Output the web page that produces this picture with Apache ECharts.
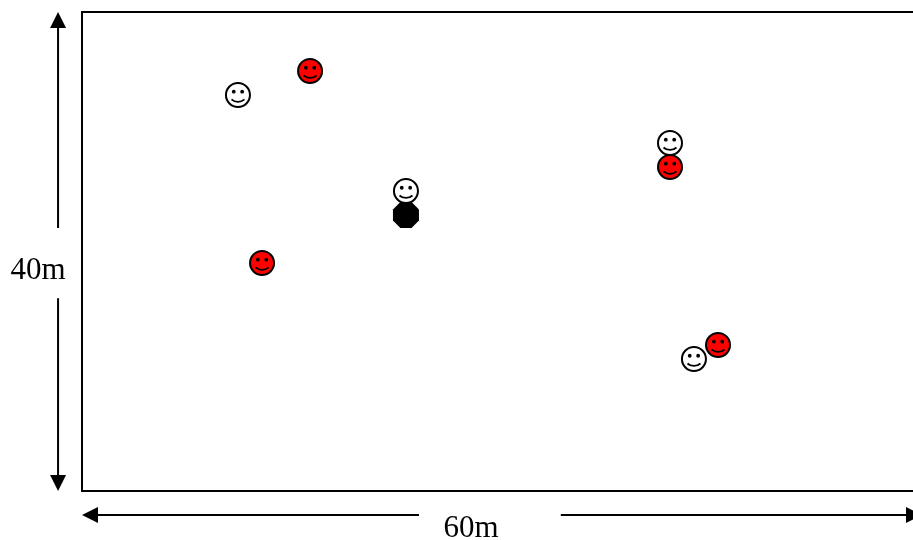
<!DOCTYPE html>
<html>
<head>
<meta charset="utf-8">
<style>html,body{margin:0;padding:0;background:#fff;overflow:hidden}#c{width:913px;height:540px}</style>
<script src="https://cdn.jsdelivr.net/npm/echarts@6/dist/echarts.min.js"></script>
</head>
<body>
<div id="c"></div>
<script>
// positions in metres inside the 60m x 40m field (the field's right edge runs off the page)
var whitePeople = [[11.14,33.07],[23.14,25.05],[42,29.06],[43.71,11.02]];
var redPeople   = [[16.29,35.07],[12.86,19.04],[42,27.06],[45.43,12.19]];
var blackMarker = [[23.14,23.05]];
// field outline segments: [x1,y1,x2,y2]
var fieldEdges = [[0,0,0,40],[0,40,60,40],[0,0,60,0],[60,0,60,40]];
// dimension arrows: [x1,y1,x2,y2] with the head at x1,y1
var arrows = [
  [-1.71,40,-1.71,21.96],
  [-1.71,0,-1.71,16.1],
  [0,-2,24.07,-2],
  [60,-2,34.2,-2]
];
var labels = [
  {text:'40m', value:[-3.14,18.42]},
  {text:'60m', value:[27.79,-3.17]}
];
var visibleXMax = 59.357;

function smiley(api, fill){
  var c = api.coord([api.value(0), api.value(1)]);
  var x = c[0], y = c[1];
  return {type:'group', children:[
    {type:'circle', shape:{cx:x,cy:y,r:12}, style:{fill:fill,stroke:'#000',lineWidth:2}},
    {type:'circle', shape:{cx:x-4.2,cy:y-3.3,r:1.9}, style:{fill:'#000'}},
    {type:'circle', shape:{cx:x+4.2,cy:y-3.3,r:1.9}, style:{fill:'#000'}},
    {type:'arc', shape:{cx:x,cy:y-2.9,r:9.8,startAngle:Math.PI*0.27,endAngle:Math.PI*0.73},
      style:{fill:'none',stroke:'#000',lineWidth:1.8}}
  ]};
}
function octagon(api){
  var c = api.coord([api.value(0), api.value(1)]);
  var r = 13, k = 5.6, x = c[0], y = c[1];
  return {type:'polygon', shape:{points:[[x-k,y-r],[x+k,y-r],[x+r,y-k],[x+r,y+k],[x+k,y+r],[x-k,y+r],[x-r,y+k],[x-r,y-k]]},
    style:{fill:'#000'}};
}
function edge(params, api){
  var a = api.coord([api.value(0), api.value(1)]);
  var b = api.coord([api.value(2), api.value(3)]);
  return {type:'line', shape:{x1:a[0],y1:a[1],x2:b[0],y2:b[1]}, style:{stroke:'#000',lineWidth:2,lineCap:'square'}};
}
function arrow(params, api){
  var a = api.coord([api.value(0), api.value(1)]);
  var b = api.coord([api.value(2), api.value(3)]);
  var dx = b[0]-a[0], dy = b[1]-a[1], L = Math.sqrt(dx*dx+dy*dy);
  var ux = dx/L, uy = dy/L, h = 16, w = 8;
  var bx = a[0]+ux*h, by = a[1]+uy*h;
  return {type:'group', children:[
    {type:'line', shape:{x1:bx,y1:by,x2:b[0],y2:b[1]}, style:{stroke:'#000',lineWidth:2}},
    {type:'polygon', shape:{points:[a,[bx-uy*w,by+ux*w],[bx+uy*w,by-ux*w]]}, style:{fill:'#000'}}
  ]};
}

var chart = echarts.init(document.getElementById('c'), null, {renderer:'canvas'});
chart.setOption({
  animation:false,
  backgroundColor:'#fff',
  grid:{show:false,left:82,top:12,right:0,height:479},
  xAxis:{type:'value',min:0,max:visibleXMax,show:false},
  yAxis:{type:'value',min:0,max:40,show:false},
  tooltip:{show:false},
  series:[
    {type:'custom',name:'field',clip:false,silent:true,encode:{x:0,y:1},data:fieldEdges,renderItem:edge},
    {type:'custom',name:'arrows',clip:false,silent:true,encode:{x:0,y:1},data:arrows,renderItem:arrow},
    {type:'custom',name:'labels',clip:false,silent:true,encode:{x:0,y:1},
      data:labels.map(function(l){return {value:l.value,name:l.text};}),
      renderItem:function(params,api){
        var c = api.coord([api.value(0),api.value(1)]);
        return {type:'text',x:c[0],y:c[1],style:{text:labels[params.dataIndex].text,
          fill:'#000',fontFamily:'Liberation Serif',fontSize:31,align:'center',verticalAlign:'middle'}};
      }},
    {type:'custom',name:'black',silent:true,encode:{x:0,y:1},data:blackMarker,renderItem:function(p,api){return octagon(api);}},
    {type:'custom',name:'white',silent:true,encode:{x:0,y:1},data:whitePeople,renderItem:function(p,api){return smiley(api,'#fff');}},
    {type:'custom',name:'red',silent:true,encode:{x:0,y:1},data:redPeople,renderItem:function(p,api){return smiley(api,'#ff0000');}}
  ]
});
</script>
</body>
</html>
